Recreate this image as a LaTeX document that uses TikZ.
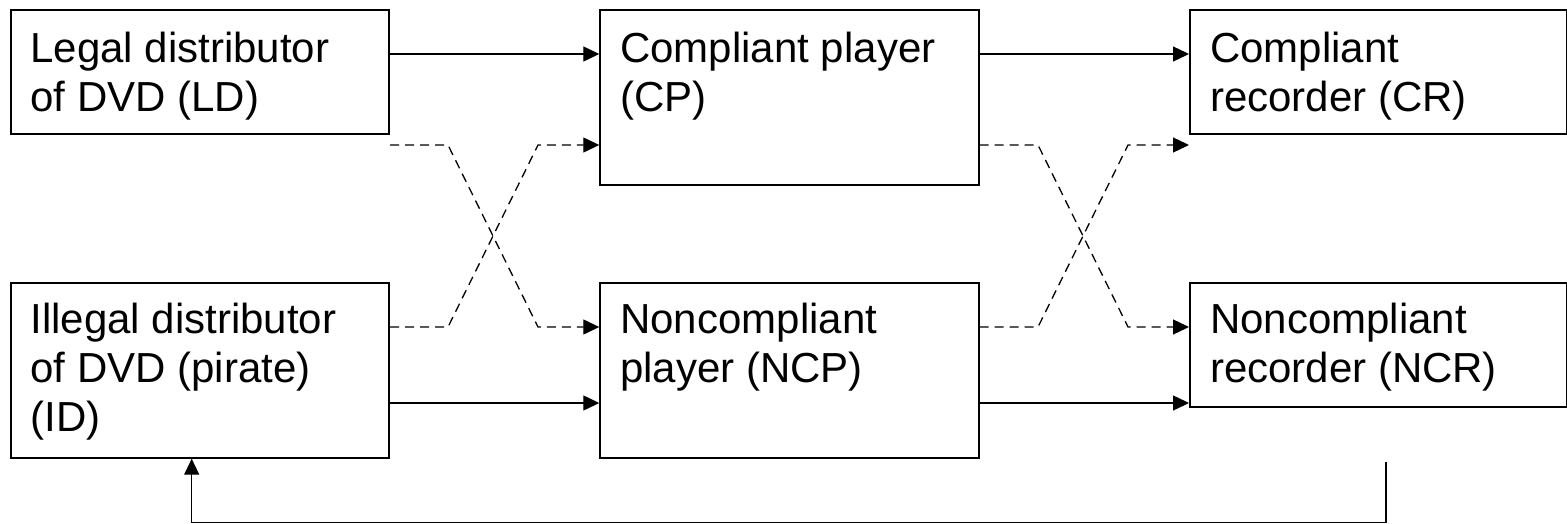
\documentclass[tikz,border=0pt]{standalone}
\usepackage{fontspec}
\setmainfont{Liberation Sans}
\usetikzlibrary{arrows.meta}

% box text: width, height, first-baseline drop, lines
\newcommand{\blocktext}[4]{\parbox[c][#2][t]{#1}{\raggedright\leftskip=10pt\rule{0pt}{#3}#4}}

\tikzset{
  blk/.style={draw, line width=1pt, inner sep=0pt, anchor=north west,
              font=\fontsize{21}{24.5}\selectfont},
  flow/.style={line width=0.65pt, -{Triangle[length=8pt,width=7.5pt]}},
  dflow/.style={flow, dash pattern=on 4.5pt off 3pt},
  link/.style={line width=0.65pt}
}

\begin{document}
\begin{tikzpicture}[x=0.5pt,y=-0.5pt]
\useasboundingbox (0,0) rectangle (1567,524);

% blocks
\node[blk] (LD)  at (9.5,9.5)   {\blocktext{189.25pt}{61.75pt}{26pt}{Legal distributor\\of DVD (LD)}};
\node[blk] (CP)  at (599.3,9.5) {\blocktext{189.2pt}{87.25pt}{26pt}{Compliant player\\(CP)}};
\node[blk] (CR)  at (1189,9.5)  {\blocktext{188.35pt}{61.75pt}{26pt}{Compliant\\recorder (CR)}};
\node[blk] (ID)  at (9.5,282)   {\blocktext{189.25pt}{87.35pt}{25pt}{Illegal distributor\\of DVD (pirate)\\(ID)}};
\node[blk] (NCP) at (599.3,282) {\blocktext{189.2pt}{87.35pt}{25pt}{Noncompliant\\player (NCP)}};
\node[blk] (NCR) at (1189,282)  {\blocktext{188.35pt}{61.85pt}{25pt}{Noncompliant\\recorder (NCR)}};

% connector levels and crossing bends
\coordinate (s1) at (0,54);
\coordinate (d1) at (0,145);
\coordinate (d2) at (0,327);
\coordinate (s2) at (0,403);
\coordinate (xa) at (448,0);
\coordinate (xb) at (538,0);
\coordinate (xc) at (1038,0);
\coordinate (xd) at (1128,0);

% solid flows
\draw[flow] (LD.east |- s1) -- (CP.west |- s1);
\draw[flow] (CP.east |- s1) -- (CR.west |- s1);
\draw[flow] (ID.east |- s2) -- (NCP.west |- s2);
\draw[flow] (NCP.east |- s2) -- (NCR.west |- s2);

% crossing dashed flows
\draw[dflow] (LD.east |- d1) -- (xa |- d1) -- (xb |- d2) -- (NCP.west |- d2);
\draw[dflow] (ID.east |- d2) -- (xa |- d2) -- (xb |- d1) -- (CP.west |- d1);
\draw[dflow] (CP.east |- d1) -- (xc |- d1) -- (xd |- d2) -- (NCR.west |- d2);
\draw[dflow] (NCP.east |- d2) -- (xc |- d2) -- (xd |- d1) -- (CR.west |- d1);

% feedback to the pirate
\coordinate (fbtop) at (1386,462);
\coordinate (fbbot) at (191.7,522.3);
\draw[flow] (fbtop) |- (fbbot) -- (fbbot |- ID.south);
\end{tikzpicture}
\end{document}
